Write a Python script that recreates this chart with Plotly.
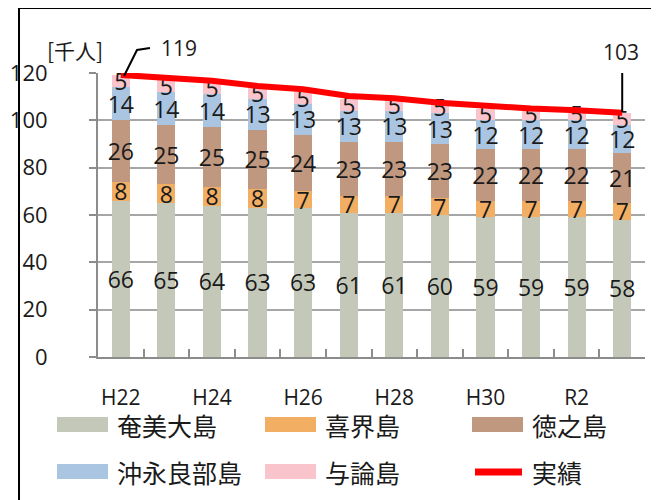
import plotly.graph_objects as go

years = ["H22", "H23", "H24", "H25", "H26", "H27", "H28", "H29", "H30", "R1", "R2", "R3"]
tick_labels = ["H22", "", "H24", "", "H26", "", "H28", "", "H30", "", "R2", ""]
amami = [66, 65, 64, 63, 63, 61, 61, 60, 59, 59, 59, 58]
kikai = [8, 8, 8, 8, 7, 7, 7, 7, 7, 7, 7, 7]
tokuno = [26, 25, 25, 25, 24, 23, 23, 23, 22, 22, 22, 21]
okinoerabu = [14, 14, 14, 13, 13, 13, 13, 13, 12, 12, 12, 12]
yoron = [5, 5, 5, 5, 5, 5, 5, 5, 5, 5, 5, 5]
actual = [119.2, 117.8, 116.7, 114.5, 113.1, 110.3, 109.3, 107.4, 106.0, 105.0, 104.3, 103.2]

series = [
    ("奄美大島", amami, "#C3C8B9"),
    ("喜界島", kikai, "#F2AE62"),
    ("徳之島", tokuno, "#C0977F"),
    ("沖永良部島", okinoerabu, "#A9C5E1"),
    ("与論島", yoron, "#F9C4CB"),
]

JP = "Noto Sans CJK JP"
NUM = "Open Sans"
TXT = "#1a1a1a"
fig = go.Figure()
for name, vals, col in series:
    fig.add_trace(go.Bar(
        x=years, y=vals, name=name, marker=dict(color=col, line=dict(width=0)),
        text=[str(v) for v in vals], textposition="inside", constraintext="none",
        textangle=0, insidetextanchor="middle",
        insidetextfont=dict(family=NUM, size=23, color=TXT),
        showlegend=False, cliponaxis=False,
    ))
fig.add_trace(go.Scatter(
    x=years, y=actual, mode="lines", name="実績",
    line=dict(color="#FF0000", width=6), showlegend=False,
))

# page has an 8px body margin; geometry below is in window pixels
OFF = 8
FW, FH = 659 - OFF, 500 - OFF
L, R, T, B = 98, 645, 73, 357   # plot area in window pixels
W, H = R - L, B - T
def px(x): return (x - L) / W
def py(y): return (B - y) / H

shapes = [
    dict(type="rect", xref="paper", yref="paper", x0=px(19), x1=px(680), y0=py(8), y1=py(520),
         line=dict(color="black", width=2), fillcolor="rgba(0,0,0,0)", layer="above"),
    dict(type="path", xref="paper", yref="paper",
         path=f"M {px(124)} {py(76)} L {px(137)} {py(50)} L {px(150)} {py(48)}",
         line=dict(color="black", width=2)),
    dict(type="line", xref="x", yref="paper", x0=11, x1=11, y0=py(73), y1=py(112),
         line=dict(color="black", width=2)),
]
def ann(text, x, y, font, size, xanchor="center"):
    return dict(text=text, xref="paper", yref="paper", x=px(x), y=py(y), showarrow=False,
                xanchor=xanchor, yanchor="middle", font=dict(family=font, size=size, color=TXT))

annotations = [
    ann("[千人]", 75, 50, JP, 21),
    ann(str(round(actual[0])), 179, 48, NUM, 21),
    ann(str(round(actual[-1])), 621, 52, NUM, 21),
]

# manual legend
legend_items = [
    ("奄美大島", "#C3C8B9", 57, 425, "bar"),
    ("喜界島", "#F2AE62", 265, 425, "bar"),
    ("徳之島", "#C0977F", 472, 425, "bar"),
    ("沖永良部島", "#A9C5E1", 57, 472, "bar"),
    ("与論島", "#F9C4CB", 265, 472, "bar"),
    ("実績", "#FF0000", 472, 472, "line"),
]
for name, col, x0, yc, kind in legend_items:
    if kind == "bar":
        shapes.append(dict(type="rect", xref="paper", yref="paper", x0=px(x0), x1=px(x0 + 51),
                           y0=py(yc + 7), y1=py(yc - 8), fillcolor=col, line=dict(width=0)))
    else:
        shapes.append(dict(type="line", xref="paper", yref="paper", x0=px(x0 + 3), x1=px(x0 + 50),
                           y0=py(yc), y1=py(yc), line=dict(color=col, width=7)))
    annotations.append(ann(name, x0 + 58, yc, JP, 25, xanchor="left"))

fig.update_layout(
    width=FW, height=FH, barmode="stack", bargap=0.6,
    margin=dict(l=L - OFF, r=FW - (R - OFF), t=T - OFF, b=FH - (B - OFF), pad=0),
    plot_bgcolor="white", paper_bgcolor="white",
    font=dict(family=NUM, size=21, color=TXT),
    shapes=shapes, annotations=annotations,
    xaxis=dict(tickmode="array", tickvals=years, ticktext=tick_labels, tickson="boundaries",
               ticks="inside", ticklen=8, tickcolor="#8c8c8c", tickwidth=2, tickangle=0,
               showline=True, linecolor="#8c8c8c", linewidth=2, showgrid=False, automargin=False,
               ticklabelstandoff=21, tickfont=dict(family=NUM, size=21, color=TXT)),
    yaxis=dict(range=[0, 120], tickvals=[0, 20, 40, 60, 80, 100, 120], showline=True,
               linecolor="#8c8c8c", linewidth=2, ticks="outside", ticklen=7, tickcolor="#8c8c8c",
               tickwidth=2, showgrid=True, gridcolor="#a6a6a6", gridwidth=1.5, zeroline=False,
               automargin=False,
               ticklabelstandoff=37, tickfont=dict(family=NUM, size=22, color=TXT)),
)
fig.write_html("out.html")
